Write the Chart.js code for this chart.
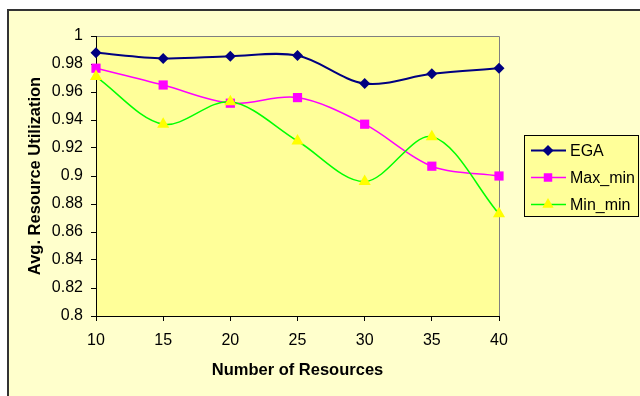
<!DOCTYPE html>
<html>
<head>
<meta charset="utf-8">
<script src="https://cdn.jsdelivr.net/npm/chart.js@4"></script>
<style>
html,body{margin:0;padding:0;background:#fff;}
#wrap{width:640px;height:396px;}
</style>
</head>
<body>
<div id="wrap"><canvas id="c" width="640" height="396"></canvas></div>
<script>
const categories = ['10','15','20','25','30','35','40'];
const egaValues = [0.988, 0.984, 0.9855, 0.986, 0.966, 0.973, 0.977];
const maxMinValues = [0.977, 0.965, 0.952, 0.956, 0.937, 0.907, 0.900];
const minMinValues = [0.971, 0.937, 0.953, 0.925, 0.896, 0.928, 0.873];
const seriesNames = ['EGA', 'Max_min', 'Min_min'];
const xTitle = 'Number of Resources';
const yTitle = 'Avg. Resource Utilization';

const FONT = "'Liberation Sans', Arial, sans-serif";

const styles = [
  {line:'#000080', fill:'#000080', shape:'rectRot', r:5.5, w:2},
  {line:'#FF00FF', fill:'#FF00FF', shape:'rect', r:6, w:1.5},
  {line:'#00FF00', fill:'#FFFF00', shape:'triangle', r:6.5, w:1.5}
];

function drawMarker(ctx, shape, x, y, r, color){
  ctx.save();
  ctx.fillStyle = color;
  ctx.beginPath();
  if (shape === 'rectRot'){
    ctx.moveTo(x, y - r); ctx.lineTo(x + r, y); ctx.lineTo(x, y + r); ctx.lineTo(x - r, y);
  } else if (shape === 'rect'){
    const s = r * Math.SQRT1_2;
    ctx.rect(x - s, y - s, 2*s, 2*s);
  } else {
    ctx.moveTo(x, y - r); ctx.lineTo(x + r*0.87, y + r*0.5); ctx.lineTo(x - r*0.87, y + r*0.5);
  }
  ctx.closePath();
  ctx.fill();
  ctx.restore();
}

const decor = {
  id:'decor',
  beforeDraw(chart){
    const ctx = chart.ctx, a = chart.chartArea;
    ctx.save();
    ctx.fillStyle = '#ffffff';
    ctx.fillRect(0,0,chart.width,chart.height);
    ctx.fillStyle = '#FFFFCC';
    ctx.fillRect(8,10,chart.width,chart.height);
    ctx.strokeStyle = '#333333';
    ctx.lineWidth = 2;
    ctx.strokeRect(8,10,chart.width+20,chart.height+20);
    ctx.fillStyle = '#FFFF99';
    ctx.fillRect(a.left, a.top, a.right - a.left, a.bottom - a.top);
    ctx.strokeStyle = '#808080';
    ctx.lineWidth = 1;
    ctx.beginPath();
    ctx.moveTo(a.left, a.top + 0.5); ctx.lineTo(a.right + 0.5, a.top + 0.5); ctx.lineTo(a.right + 0.5, a.bottom);
    ctx.stroke();
    ctx.restore();
  },
  afterDraw(chart){
    const ctx = chart.ctx;
    ctx.save();
    const bx = 524.5, by = 135.5, bw = 114, bh = 81;
    ctx.fillStyle = '#FFFF99';
    ctx.fillRect(bx, by, bw, bh);
    ctx.strokeStyle = '#000000';
    ctx.lineWidth = 1;
    ctx.strokeRect(bx, by, bw, bh);
    const rows = [150.5, 177.5, 204.5];
    ctx.font = '16px ' + FONT;
    ctx.textBaseline = 'middle';
    ctx.textAlign = 'left';
    seriesNames.forEach((n, i) => {
      const s = styles[i], y = rows[i];
      ctx.strokeStyle = s.line; ctx.lineWidth = s.w;
      ctx.beginPath(); ctx.moveTo(531, y); ctx.lineTo(566, y); ctx.stroke();
      drawMarker(ctx, s.shape, 548, y, s.r, s.fill);
      ctx.fillStyle = '#000000';
      ctx.fillText(n, 570, y + 1);
    });
    ctx.restore();
  }
};

const dataArrays = [egaValues, maxMinValues, minMinValues];

new Chart(document.getElementById('c'), {
  type: 'line',
  data: {
    labels: categories,
    datasets: seriesNames.map((n, i) => ({
      label: n,
      data: dataArrays[i],
      order: 3 - i,
      borderColor: styles[i].line,
      borderWidth: styles[i].w,
      backgroundColor: styles[i].fill,
      pointBackgroundColor: styles[i].fill,
      pointBorderColor: styles[i].fill,
      pointBorderWidth: 0,
      pointStyle: styles[i].shape,
      pointRadius: styles[i].shape === 'rectRot' ? 5.5 : (styles[i].shape === 'rect' ? 6.5 : 7),
      tension: 0.33,
      fill: false,
      clip: false
    }))
  },
  options: {
    responsive: false,
    devicePixelRatio: 1,
    animation: false,
    events: [],
    layout: { padding: { left: 0, top: 36, right: 141, bottom: 0 } },
    plugins: { legend: { display: false }, tooltip: { enabled: false } },
    scales: {
      x: {
        type: 'category',
        offset: false,
        afterFit(s){ s.height = 80; },
        grid: { drawOnChartArea: false, tickLength: 5, color: '#000000', tickColor: '#000000' },
        border: { color: '#000000', width: 1 },
        ticks: { color: '#000000', font: { family: FONT, size: 16 }, padding: 10, maxRotation: 0, autoSkip: false },
        title: { display: true, text: xTitle, color: '#000000', font: { family: FONT, size: 16.5, weight: 'bold' }, padding: { top: 0, bottom: 16 } }
      },
      y: {
        min: 0.8, max: 1,
        afterFit(s){ s.width = 96; },
        grid: { drawOnChartArea: false, tickLength: 5, color: '#000000', tickColor: '#000000' },
        border: { color: '#000000', width: 1 },
        ticks: {
          stepSize: 0.02, color: '#000000', font: { family: FONT, size: 16 }, padding: 8,
          callback: v => String(Number(v.toFixed(2)))
        },
        title: { display: true, text: yTitle, color: '#000000', font: { family: FONT, size: 16.5, weight: 'bold' }, padding: { top: 26, bottom: 0 } }
      }
    }
  },
  plugins: [decor]
});
</script>
</body>
</html>
